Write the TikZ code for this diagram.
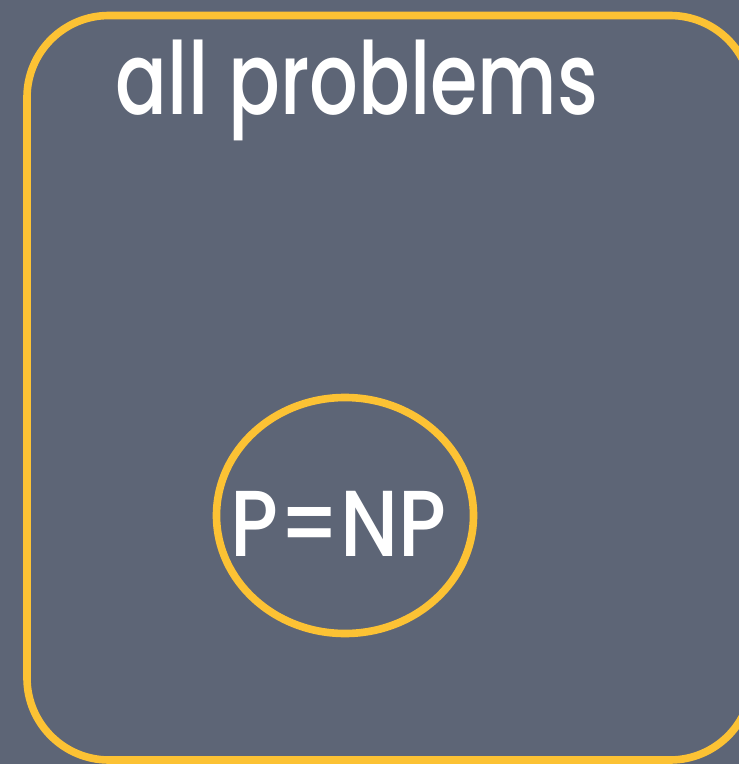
\documentclass[tikz,border=0pt]{standalone}
\usepackage{fontspec}
\setmainfont{Poppins}[UprightFont=* Medium]
\definecolor{slate}{RGB}{93,101,118}
\definecolor{gold}{RGB}{252,194,52}
\begin{document}
\begin{tikzpicture}[
		x=0.03cm, y=-0.03cm, line join=round, line cap=round,
		every node/.style={text=white, inner sep=0pt},
		frame/.style={draw=gold, line width=6.5pt},
		]
		% 1. NỀN
		\clip (0,0) rectangle (739,764);
		\fill[slate] (0,0) rectangle (739,764);
		
		% 2. KHUNG "all problems"
		\draw[frame, rounded corners=2.46cm] (27,15.5) rectangle (752,760);
		\node[anchor=base, font=\fontsize{86}{96}\selectfont] (allp) at (357,115) {\scalebox{0.76}[1]{all problems}};
		
		% 3. VÒNG P=NP
		\draw[frame] (345,515.5) ellipse (128.5 and 118);
		\node[anchor=base, font=\fontsize{80}{90}\selectfont] (pnp) at (338.5,556) {\scalebox{0.86}[1]{P=NP}};
		
	\end{tikzpicture}
\end{document}
